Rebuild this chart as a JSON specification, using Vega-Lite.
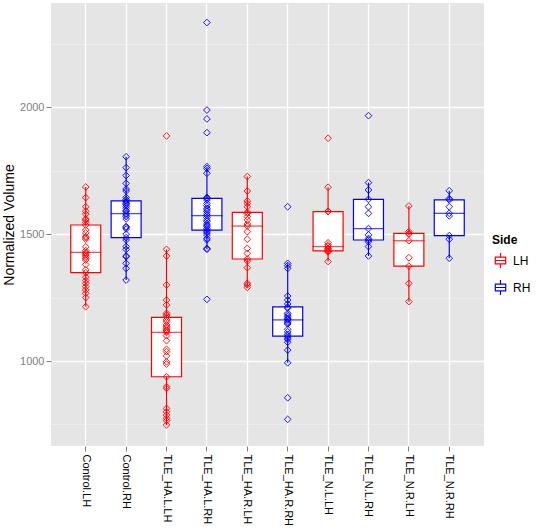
{
  "$schema": "https://vega.github.io/schema/vega-lite/v6.json",
  "autosize": {"type": "none"},
  "padding": {"left": 51, "top": 3, "right": 53, "bottom": 86},
  "width": 433,
  "height": 443,
  "background": "white",
  "config": {
    "view": {"fill": "#E5E5E5", "stroke": null},
    "font": "Liberation Sans"
  },
  "data": {"values": [
    {"group":"Control.LH","Side":"LH","value":1214},{"group":"Control.LH","Side":"LH","value":1250},{"group":"Control.LH","Side":"LH","value":1267},{"group":"Control.LH","Side":"LH","value":1280},{"group":"Control.LH","Side":"LH","value":1293},{"group":"Control.LH","Side":"LH","value":1306},{"group":"Control.LH","Side":"LH","value":1317},{"group":"Control.LH","Side":"LH","value":1330},{"group":"Control.LH","Side":"LH","value":1348},{"group":"Control.LH","Side":"LH","value":1359},{"group":"Control.LH","Side":"LH","value":1380},{"group":"Control.LH","Side":"LH","value":1398},{"group":"Control.LH","Side":"LH","value":1405},{"group":"Control.LH","Side":"LH","value":1411},{"group":"Control.LH","Side":"LH","value":1418},{"group":"Control.LH","Side":"LH","value":1424},{"group":"Control.LH","Side":"LH","value":1428},{"group":"Control.LH","Side":"LH","value":1435},{"group":"Control.LH","Side":"LH","value":1450},{"group":"Control.LH","Side":"LH","value":1480},{"group":"Control.LH","Side":"LH","value":1486},{"group":"Control.LH","Side":"LH","value":1490},{"group":"Control.LH","Side":"LH","value":1505},{"group":"Control.LH","Side":"LH","value":1516},{"group":"Control.LH","Side":"LH","value":1536},{"group":"Control.LH","Side":"LH","value":1547},{"group":"Control.LH","Side":"LH","value":1556},{"group":"Control.LH","Side":"LH","value":1560},{"group":"Control.LH","Side":"LH","value":1579},{"group":"Control.LH","Side":"LH","value":1590},{"group":"Control.LH","Side":"LH","value":1608},{"group":"Control.LH","Side":"LH","value":1644},{"group":"Control.LH","Side":"LH","value":1686},
    {"group":"Control.RH","Side":"RH","value":1319},{"group":"Control.RH","Side":"RH","value":1365},{"group":"Control.RH","Side":"RH","value":1385},{"group":"Control.RH","Side":"RH","value":1411},{"group":"Control.RH","Side":"RH","value":1414},{"group":"Control.RH","Side":"RH","value":1440},{"group":"Control.RH","Side":"RH","value":1451},{"group":"Control.RH","Side":"RH","value":1477},{"group":"Control.RH","Side":"RH","value":1486},{"group":"Control.RH","Side":"RH","value":1500},{"group":"Control.RH","Side":"RH","value":1520},{"group":"Control.RH","Side":"RH","value":1526},{"group":"Control.RH","Side":"RH","value":1530},{"group":"Control.RH","Side":"RH","value":1560},{"group":"Control.RH","Side":"RH","value":1569},{"group":"Control.RH","Side":"RH","value":1575},{"group":"Control.RH","Side":"RH","value":1581},{"group":"Control.RH","Side":"RH","value":1590},{"group":"Control.RH","Side":"RH","value":1593},{"group":"Control.RH","Side":"RH","value":1602},{"group":"Control.RH","Side":"RH","value":1610},{"group":"Control.RH","Side":"RH","value":1616},{"group":"Control.RH","Side":"RH","value":1621},{"group":"Control.RH","Side":"RH","value":1626},{"group":"Control.RH","Side":"RH","value":1631},{"group":"Control.RH","Side":"RH","value":1637},{"group":"Control.RH","Side":"RH","value":1645},{"group":"Control.RH","Side":"RH","value":1670},{"group":"Control.RH","Side":"RH","value":1678},{"group":"Control.RH","Side":"RH","value":1700},{"group":"Control.RH","Side":"RH","value":1731},{"group":"Control.RH","Side":"RH","value":1762},{"group":"Control.RH","Side":"RH","value":1805},
    {"group":"TLE_HA.L.LH","Side":"LH","value":748},{"group":"TLE_HA.L.LH","Side":"LH","value":765},{"group":"TLE_HA.L.LH","Side":"LH","value":774},{"group":"TLE_HA.L.LH","Side":"LH","value":787},{"group":"TLE_HA.L.LH","Side":"LH","value":800},{"group":"TLE_HA.L.LH","Side":"LH","value":813},{"group":"TLE_HA.L.LH","Side":"LH","value":892},{"group":"TLE_HA.L.LH","Side":"LH","value":899},{"group":"TLE_HA.L.LH","Side":"LH","value":938},{"group":"TLE_HA.L.LH","Side":"LH","value":988},{"group":"TLE_HA.L.LH","Side":"LH","value":997},{"group":"TLE_HA.L.LH","Side":"LH","value":1020},{"group":"TLE_HA.L.LH","Side":"LH","value":1037},{"group":"TLE_HA.L.LH","Side":"LH","value":1046},{"group":"TLE_HA.L.LH","Side":"LH","value":1080},{"group":"TLE_HA.L.LH","Side":"LH","value":1100},{"group":"TLE_HA.L.LH","Side":"LH","value":1113},{"group":"TLE_HA.L.LH","Side":"LH","value":1118},{"group":"TLE_HA.L.LH","Side":"LH","value":1122},{"group":"TLE_HA.L.LH","Side":"LH","value":1129},{"group":"TLE_HA.L.LH","Side":"LH","value":1135},{"group":"TLE_HA.L.LH","Side":"LH","value":1142},{"group":"TLE_HA.L.LH","Side":"LH","value":1155},{"group":"TLE_HA.L.LH","Side":"LH","value":1162},{"group":"TLE_HA.L.LH","Side":"LH","value":1172},{"group":"TLE_HA.L.LH","Side":"LH","value":1181},{"group":"TLE_HA.L.LH","Side":"LH","value":1188},{"group":"TLE_HA.L.LH","Side":"LH","value":1221},{"group":"TLE_HA.L.LH","Side":"LH","value":1240},{"group":"TLE_HA.L.LH","Side":"LH","value":1300},{"group":"TLE_HA.L.LH","Side":"LH","value":1414},{"group":"TLE_HA.L.LH","Side":"LH","value":1440},{"group":"TLE_HA.L.LH","Side":"LH","value":1887},
    {"group":"TLE_HA.L.RH","Side":"RH","value":1243},{"group":"TLE_HA.L.RH","Side":"RH","value":1440},{"group":"TLE_HA.L.RH","Side":"RH","value":1444},{"group":"TLE_HA.L.RH","Side":"RH","value":1477},{"group":"TLE_HA.L.RH","Side":"RH","value":1483},{"group":"TLE_HA.L.RH","Side":"RH","value":1497},{"group":"TLE_HA.L.RH","Side":"RH","value":1505},{"group":"TLE_HA.L.RH","Side":"RH","value":1510},{"group":"TLE_HA.L.RH","Side":"RH","value":1516},{"group":"TLE_HA.L.RH","Side":"RH","value":1522},{"group":"TLE_HA.L.RH","Side":"RH","value":1530},{"group":"TLE_HA.L.RH","Side":"RH","value":1535},{"group":"TLE_HA.L.RH","Side":"RH","value":1540},{"group":"TLE_HA.L.RH","Side":"RH","value":1550},{"group":"TLE_HA.L.RH","Side":"RH","value":1556},{"group":"TLE_HA.L.RH","Side":"RH","value":1565},{"group":"TLE_HA.L.RH","Side":"RH","value":1573},{"group":"TLE_HA.L.RH","Side":"RH","value":1580},{"group":"TLE_HA.L.RH","Side":"RH","value":1589},{"group":"TLE_HA.L.RH","Side":"RH","value":1595},{"group":"TLE_HA.L.RH","Side":"RH","value":1602},{"group":"TLE_HA.L.RH","Side":"RH","value":1612},{"group":"TLE_HA.L.RH","Side":"RH","value":1621},{"group":"TLE_HA.L.RH","Side":"RH","value":1635},{"group":"TLE_HA.L.RH","Side":"RH","value":1641},{"group":"TLE_HA.L.RH","Side":"RH","value":1645},{"group":"TLE_HA.L.RH","Side":"RH","value":1740},{"group":"TLE_HA.L.RH","Side":"RH","value":1759},{"group":"TLE_HA.L.RH","Side":"RH","value":1766},{"group":"TLE_HA.L.RH","Side":"RH","value":1900},{"group":"TLE_HA.L.RH","Side":"RH","value":1954},{"group":"TLE_HA.L.RH","Side":"RH","value":1989},{"group":"TLE_HA.L.RH","Side":"RH","value":2334},
    {"group":"TLE_HA.R.LH","Side":"LH","value":1290},{"group":"TLE_HA.R.LH","Side":"LH","value":1300},{"group":"TLE_HA.R.LH","Side":"LH","value":1306},{"group":"TLE_HA.R.LH","Side":"LH","value":1368},{"group":"TLE_HA.R.LH","Side":"LH","value":1394},{"group":"TLE_HA.R.LH","Side":"LH","value":1402},{"group":"TLE_HA.R.LH","Side":"LH","value":1424},{"group":"TLE_HA.R.LH","Side":"LH","value":1444},{"group":"TLE_HA.R.LH","Side":"LH","value":1480},{"group":"TLE_HA.R.LH","Side":"LH","value":1510},{"group":"TLE_HA.R.LH","Side":"LH","value":1532},{"group":"TLE_HA.R.LH","Side":"LH","value":1540},{"group":"TLE_HA.R.LH","Side":"LH","value":1556},{"group":"TLE_HA.R.LH","Side":"LH","value":1569},{"group":"TLE_HA.R.LH","Side":"LH","value":1582},{"group":"TLE_HA.R.LH","Side":"LH","value":1586},{"group":"TLE_HA.R.LH","Side":"LH","value":1608},{"group":"TLE_HA.R.LH","Side":"LH","value":1621},{"group":"TLE_HA.R.LH","Side":"LH","value":1631},{"group":"TLE_HA.R.LH","Side":"LH","value":1670},{"group":"TLE_HA.R.LH","Side":"LH","value":1727},
    {"group":"TLE_HA.R.RH","Side":"RH","value":770},{"group":"TLE_HA.R.RH","Side":"RH","value":855},{"group":"TLE_HA.R.RH","Side":"RH","value":993},{"group":"TLE_HA.R.RH","Side":"RH","value":1043},{"group":"TLE_HA.R.RH","Side":"RH","value":1074},{"group":"TLE_HA.R.RH","Side":"RH","value":1085},{"group":"TLE_HA.R.RH","Side":"RH","value":1090},{"group":"TLE_HA.R.RH","Side":"RH","value":1098},{"group":"TLE_HA.R.RH","Side":"RH","value":1105},{"group":"TLE_HA.R.RH","Side":"RH","value":1115},{"group":"TLE_HA.R.RH","Side":"RH","value":1125},{"group":"TLE_HA.R.RH","Side":"RH","value":1146},{"group":"TLE_HA.R.RH","Side":"RH","value":1150},{"group":"TLE_HA.R.RH","Side":"RH","value":1155},{"group":"TLE_HA.R.RH","Side":"RH","value":1162},{"group":"TLE_HA.R.RH","Side":"RH","value":1165},{"group":"TLE_HA.R.RH","Side":"RH","value":1168},{"group":"TLE_HA.R.RH","Side":"RH","value":1175},{"group":"TLE_HA.R.RH","Side":"RH","value":1181},{"group":"TLE_HA.R.RH","Side":"RH","value":1188},{"group":"TLE_HA.R.RH","Side":"RH","value":1208},{"group":"TLE_HA.R.RH","Side":"RH","value":1213},{"group":"TLE_HA.R.RH","Side":"RH","value":1225},{"group":"TLE_HA.R.RH","Side":"RH","value":1240},{"group":"TLE_HA.R.RH","Side":"RH","value":1256},{"group":"TLE_HA.R.RH","Side":"RH","value":1365},{"group":"TLE_HA.R.RH","Side":"RH","value":1376},{"group":"TLE_HA.R.RH","Side":"RH","value":1385},{"group":"TLE_HA.R.RH","Side":"RH","value":1608},
    {"group":"TLE_N.L.LH","Side":"LH","value":1392},{"group":"TLE_N.L.LH","Side":"LH","value":1430},{"group":"TLE_N.L.LH","Side":"LH","value":1432},{"group":"TLE_N.L.LH","Side":"LH","value":1434},{"group":"TLE_N.L.LH","Side":"LH","value":1440},{"group":"TLE_N.L.LH","Side":"LH","value":1444},{"group":"TLE_N.L.LH","Side":"LH","value":1451},{"group":"TLE_N.L.LH","Side":"LH","value":1457},{"group":"TLE_N.L.LH","Side":"LH","value":1466},{"group":"TLE_N.L.LH","Side":"LH","value":1589},{"group":"TLE_N.L.LH","Side":"LH","value":1590},{"group":"TLE_N.L.LH","Side":"LH","value":1685},{"group":"TLE_N.L.LH","Side":"LH","value":1878},
    {"group":"TLE_N.L.RH","Side":"RH","value":1414},{"group":"TLE_N.L.RH","Side":"RH","value":1451},{"group":"TLE_N.L.RH","Side":"RH","value":1470},{"group":"TLE_N.L.RH","Side":"RH","value":1477},{"group":"TLE_N.L.RH","Side":"RH","value":1483},{"group":"TLE_N.L.RH","Side":"RH","value":1497},{"group":"TLE_N.L.RH","Side":"RH","value":1522},{"group":"TLE_N.L.RH","Side":"RH","value":1582},{"group":"TLE_N.L.RH","Side":"RH","value":1608},{"group":"TLE_N.L.RH","Side":"RH","value":1637},{"group":"TLE_N.L.RH","Side":"RH","value":1674},{"group":"TLE_N.L.RH","Side":"RH","value":1703},{"group":"TLE_N.L.RH","Side":"RH","value":1967},
    {"group":"TLE_N.R.LH","Side":"LH","value":1234},{"group":"TLE_N.R.LH","Side":"LH","value":1306},{"group":"TLE_N.R.LH","Side":"LH","value":1374},{"group":"TLE_N.R.LH","Side":"LH","value":1407},{"group":"TLE_N.R.LH","Side":"LH","value":1474},{"group":"TLE_N.R.LH","Side":"LH","value":1500},{"group":"TLE_N.R.LH","Side":"LH","value":1503},{"group":"TLE_N.R.LH","Side":"LH","value":1510},{"group":"TLE_N.R.LH","Side":"LH","value":1611},
    {"group":"TLE_N.R.RH","Side":"RH","value":1405},{"group":"TLE_N.R.RH","Side":"RH","value":1480},{"group":"TLE_N.R.RH","Side":"RH","value":1494},{"group":"TLE_N.R.RH","Side":"RH","value":1572},{"group":"TLE_N.R.RH","Side":"RH","value":1582},{"group":"TLE_N.R.RH","Side":"RH","value":1608},{"group":"TLE_N.R.RH","Side":"RH","value":1635},{"group":"TLE_N.R.RH","Side":"RH","value":1640},{"group":"TLE_N.R.RH","Side":"RH","value":1671}
  ]},
  "encoding": {
    "x": {
      "field": "group", "type": "nominal",
      "sort": ["Control.LH","Control.RH","TLE_HA.L.LH","TLE_HA.L.RH","TLE_HA.R.LH","TLE_HA.R.RH","TLE_N.L.LH","TLE_N.L.RH","TLE_N.R.LH","TLE_N.R.RH"],
      "scale": {"paddingInner": 0, "paddingOuter": 0.36},
      "axis": {
        "title": null, "labelAngle": 90, "labelColor": "#000000", "labelFontSize": 11,
        "labelPadding": 3, "tickSize": 5, "tickColor": "#7F7F7F", "domain": false,
        "grid": true, "gridColor": "#FFFFFF", "gridWidth": 1.3, "bandPosition": 0.5
      }
    },
    "y": {
      "field": "value", "type": "quantitative",
      "scale": {"domain": [665, 2411], "nice": false, "zero": false},
      "axis": {
        "title": "Normalized Volume", "titleFontSize": 14, "titleFontWeight": "normal", "titleColor": "#000000",
        "values": [750, 1000, 1250, 1500, 1750, 2000, 2250],
        "labelExpr": "datum.value % 500 === 0 ? datum.label : ''",
        "format": "d",
        "labelColor": "#7F7F7F", "labelFontSize": 11, "labelPadding": 2,
        "tickSize": 5,
        "tickColor": {"condition": {"test": "datum.value % 500 === 0", "value": "#7F7F7F"}, "value": "transparent"},
        "gridColor": {"condition": {"test": "datum.value % 500 === 0", "value": "#FFFFFF"}, "value": "#F2F2F2"},
        "gridWidth": {"condition": {"test": "datum.value % 500 === 0", "value": 1.3}, "value": 0.6},
        "domain": false, "titlePadding": 3
      }
    },
    "stroke": {
      "field": "Side", "type": "nominal",
      "scale": {"domain": ["LH", "RH"], "range": ["#FF0000", "#0000FF"]},
      "legend": {
        "title": "Side", "titleFontSize": 12, "titleFontWeight": "bold", "labelFontSize": 12,
        "orient": "none", "legendX": 441, "legendY": 232,
        "symbolType": "M0,-1V-0.45M0,0.45V1M-0.7,-0.45H0.7V0.45H-0.7ZM-0.7,0H0.7",
        "symbolSize": 220, "symbolStrokeWidth": 1.2, "symbolFillColor": "white", "rowPadding": 6
      }
    }
  },
  "layer": [
    {
      "mark": {
        "type": "boxplot", "extent": 1.5, "size": 30, "outliers": false, "ticks": false,
        "box": {"fill": "white", "strokeWidth": 1.2},
        "median": {"fill": "white", "thickness": 0.01, "strokeWidth": 1.3},
        "rule": {"strokeWidth": 1.2}
      }
    },
    {
      "mark": {"type": "point", "shape": "diamond", "filled": false, "size": 45, "strokeWidth": 1, "opacity": 0.9}
    }
  ]
}
